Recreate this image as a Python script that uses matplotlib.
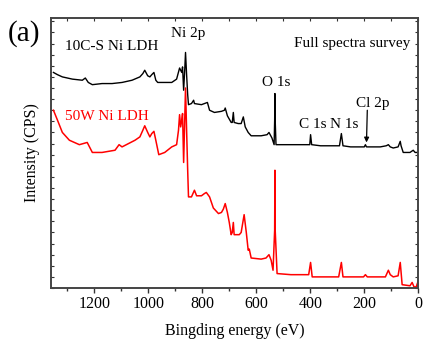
import matplotlib
matplotlib.use("Agg")
import matplotlib.pyplot as plt
from matplotlib.ticker import MultipleLocator

plt.rcParams['font.family'] = ['Liberation Serif', 'DejaVu Serif']
plt.rcParams['mathtext.fontset'] = 'stix'

# binding energy (eV) and intensity (kCPS, offset for display)
black_ev = [1351, 1336, 1318, 1281, 1244, 1233, 1222, 1207, 1171, 1134, 1097, 1060,
            1031, 1020, 1013, 1002, 994, 987, 979, 972, 965, 950, 913, 895, 884, 876,
            873, 869, 865, 862, 858, 854, 851, 840, 832, 829, 803, 792, 781, 773, 755,
            729, 718, 715, 707, 693, 689, 685, 682, 667, 656, 652, 648, 641, 630, 619,
            582, 560, 553, 542, 534, 532, 531, 530, 527, 509, 472, 435, 402, 399, 395,
            362, 325, 292, 285, 279, 251, 200, 196, 192, 141, 119, 111, 104, 93, 75,
            67, 64, 56, 31, 19, 12, 1]
black_int = [194, 192, 190, 188, 187, 189, 185, 183, 184, 184, 185, 187,
             190, 193, 196, 191, 190, 192, 194, 187, 185, 185, 185, 188, 198, 194,
             199, 178, 196, 212, 192, 174, 165, 166, 169, 166, 165, 166, 167, 160, 158,
             159, 160, 162, 155, 149, 149, 158, 149, 148, 148, 151, 154, 145, 140, 137,
             137, 138, 140, 135, 129, 151, 175, 151, 129, 129, 129, 129, 129, 138, 129,
             128, 128, 128, 139, 128, 127, 127, 129, 127, 127, 128, 129, 127, 126, 127,
             132, 128, 122, 122, 124, 122, 122]

red_ev = [1351, 1336, 1318, 1292, 1255, 1226, 1207, 1171, 1123, 1108, 1097, 1049,
          1031, 1020, 1013, 1002, 994, 987, 979, 972, 961, 939, 913, 895, 888, 884,
          880, 876, 873, 869, 865, 862, 858, 854, 851, 840, 829, 821, 803, 792, 785,
          773, 759, 740, 729, 722, 715, 707, 700, 693, 689, 685, 682, 663, 656, 645,
          637, 630, 626, 619, 582, 564, 553, 545, 538, 532, 531, 530, 523, 472, 406,
          399, 393, 362, 295, 285, 279, 251, 203, 196, 189, 122, 111, 104, 93, 75,
          67, 60, 31, 23, 16, 8, 1]
red_int = [160, 151, 140, 133, 129, 131, 122, 122, 124, 129, 127, 133,
           136, 142, 146, 140, 136, 139, 141, 133, 120, 122, 127, 129, 142, 156,
           145, 151, 157, 113, 151, 180, 142, 106, 82, 82, 88, 83, 83, 85, 86,
           82, 72, 67, 68, 71, 76, 68, 59, 48, 50, 59, 48, 48, 50, 66,
           50, 34, 35, 27, 26, 27, 30, 25, 16, 52, 106, 52, 13, 12, 12,
           23, 10, 10, 10, 23, 10, 10, 10, 12, 10, 10, 16, 12, 10, 11,
           23, 3, 2, 5, 1, 1, 6]

fig = plt.figure(figsize=(4.23, 3.41), dpi=100)
ax = fig.add_axes([0.1206, 0.1554, 0.8684, 0.7918])

ax.plot(black_ev, black_int, color='black', lw=1.0)
ax.plot(red_ev, red_int, color='red', lw=1.1)

ax.set_xlim(1360, 0)
ax.set_ylim(0, 243)

ax.xaxis.set_major_locator(MultipleLocator(200))
ax.xaxis.set_minor_locator(MultipleLocator(100))
ax.yaxis.set_major_locator(MultipleLocator(10))
ax.tick_params(axis='x', which='major', direction='out', length=3.5, width=1,
               labelsize=11.5, pad=2, colors='#333333', labelcolor='black')
ax.tick_params(axis='x', which='minor', direction='out', length=2.5, width=1,
               colors='#333333')
ax.tick_params(axis='y', which='major', direction='in', length=2.5, width=0.8,
               left=True, right=True, labelleft=False, colors='#333333')

top = ax.secondary_xaxis('top')
top.xaxis.set_major_locator(MultipleLocator(100))
top.tick_params(direction='in', length=2.5, width=0.8, labeltop=False, colors='#333333')
top.spines['top'].set_visible(False)

for s in ax.spines.values():
    s.set_linewidth(1.4)
    s.set_color('#444444')

ax.set_xlabel('Bingding energy (eV)', fontsize=11.5, labelpad=8)
ax.set_ylabel('Intensity (CPS)', fontsize=11.5, labelpad=8)

ax.text(1310, 217, '10C-S Ni LDH', fontsize=11, va='center', ha='left')
ax.text(1310, 154, '50W Ni LDH', fontsize=11, va='center', ha='left', color='red')
ax.text(851, 229.5, 'Ni 2p', fontsize=11, va='center', ha='center')
ax.text(29, 220.5, 'Full spectra survey', fontsize=11, va='center', ha='right')
ax.text(527, 185, 'O 1s', fontsize=11, va='center', ha='center')
ax.text(391, 147.6, 'C 1s', fontsize=11, va='center', ha='center')
ax.text(275, 147.6, 'N 1s', fontsize=11, va='center', ha='center')
ax.text(168, 166.5, 'Cl 2p', fontsize=11, va='center', ha='center')
ax.annotate('', xy=(192, 131), xytext=(189, 160),
            arrowprops=dict(arrowstyle='-|>', color='black', lw=0.9,
                            mutation_scale=7, shrinkA=0, shrinkB=0))

fig.text(0.057, 0.903, '(a)', fontsize=21, va='center', ha='center')

fig.savefig('out.png', dpi=100)
